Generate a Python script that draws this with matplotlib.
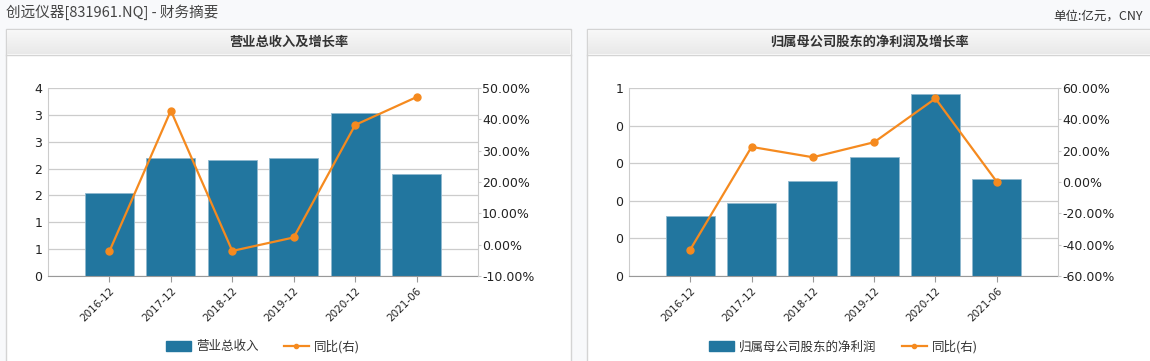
import numpy as np
import matplotlib
matplotlib.use('Agg')
import matplotlib.pyplot as plt
from matplotlib.patches import Rectangle
from matplotlib.lines import Line2D
from matplotlib.ticker import FuncFormatter

plt.rcParams['font.family'] = ['Noto Sans CJK SC', 'DejaVu Sans']

periods = ['2016-12', '2017-12', '2018-12', '2019-12', '2020-12', '2021-06']
revenue = [1.55, 2.20, 2.16, 2.20, 3.04, 1.90]
revenue_yoy = [-2.1, 42.8, -2.0, 2.3, 38.2, 47.1]
profit = [0.32, 0.39, 0.505, 0.633, 0.97, 0.516]
profit_yoy = [-43.1, 22.4, 15.8, 25.4, 53.3, 0.2]

W, H = 1150, 361
BAR = '#22769f'
LINE = '#f58a1f'
GRID = '#cccccc'
TXT = '#222222'
NUM_FONT = 'DejaVu Sans'

fig = plt.figure(figsize=(W / 100, H / 100), dpi=100)
fig.patch.set_facecolor('#f8f9fb')


def px_rect(x0, y0, x1, y1):
    # pixel box (top-left origin) -> figure fraction [l, b, w, h]
    return [x0 / W, 1 - y1 / H, (x1 - x0) / W, (y1 - y0) / H]


def panel(x0, x1, title):
    l, b, w, h = px_rect(x0, 29, x1, H + 2)
    fig.add_artist(Rectangle((l, b), w, h, transform=fig.transFigure,
                             facecolor='white', edgecolor='#d4d4d4', lw=1, zorder=-10))
    hax = fig.add_axes(px_rect(x0 + 1, 30, x1 - 1, 54))
    grad = np.linspace(0, 1, 50).reshape(-1, 1)
    hax.imshow(grad, aspect='auto', cmap=matplotlib.colors.LinearSegmentedColormap.from_list(
        'g', ['#f8f8f8', '#e9e9e9']), extent=[0, 1, 0, 1])
    hax.set_xticks([])
    hax.set_yticks([])
    for s in hax.spines.values():
        s.set_visible(False)
    l, b, w, h = px_rect(x0, 54, x1, 55)
    fig.add_artist(Line2D([l, l + w], [b, b], transform=fig.transFigure,
                          color='#d4d4d4', lw=1))
    hax.text(0.5, 0.5, title, ha='center', va='center', fontsize=9.5,
             fontweight='bold', color='#333333', transform=hax.transAxes)


def chart(x0, x1, bars, yoy, ymax, ystep, pmin, pmax, pstep, bar_label, left_fmt):
    ax = fig.add_axes(px_rect(x0, 88, x1, 276))
    x = np.arange(1, len(periods) + 1)
    ax.bar(x, bars, width=0.8, color=BAR, edgecolor='#8fb8cf', lw=0.6, zorder=2)
    ax.set_xlim(0, 7)
    ax.set_ylim(0, ymax)
    ax.set_yticks(np.arange(0, ymax + 1e-9, ystep))
    ax.yaxis.set_major_formatter(FuncFormatter(left_fmt))
    ax.set_xticks(x)
    ax.set_xticklabels(periods, rotation=45, ha='right', rotation_mode='anchor',
                       fontsize=7.5, color=TXT, family=NUM_FONT)
    ax.tick_params(axis='x', length=4, color='#999999', pad=3)
    ax.tick_params(axis='y', length=0, labelsize=9, colors=TXT, pad=4)
    for t in ax.get_yticklabels():
        t.set_family(NUM_FONT)
    ax.grid(axis='y', color=GRID, lw=0.9, zorder=0)
    ax.set_axisbelow(True)
    ax.patch.set_alpha(0)
    ax.spines['top'].set_visible(False)
    ax.spines['left'].set_color(GRID)
    ax.spines['right'].set_visible(False)
    ax.spines['bottom'].set_color('#999999')

    ax2 = ax.twinx()
    ax2.plot(x, yoy, color=LINE, lw=1.6, marker='o', ms=5, zorder=3)
    ax2.set_ylim(pmin, pmax)
    ax2.set_yticks(np.arange(pmin, pmax + 1e-9, pstep))
    ax2.yaxis.set_major_formatter(FuncFormatter(lambda v, p: '%.2f%%' % v))
    ax2.tick_params(axis='y', length=2, color=GRID, labelsize=9, colors=TXT, pad=1)
    for t in ax2.get_yticklabels():
        t.set_family(NUM_FONT)
    for s in ['top', 'left', 'bottom']:
        ax2.spines[s].set_visible(False)
    ax2.spines['right'].set_color(GRID)
    ax2.set_xlim(0, 7)

    handles = [Rectangle((0, 0), 1, 1, color=BAR),
               Line2D([], [], color=LINE, lw=1.6, marker='o', ms=3)]
    ax.legend(handles, [bar_label, '同比(右)'], loc='center', ncol=2,
              bbox_to_anchor=(0.5, -0.375), frameon=False, fontsize=9,
              handlelength=2.0, handleheight=0.9, columnspacing=2.0,
              handletextpad=0.4, labelcolor='#333333')


fig.text(6 / W, 1 - 12 / H, '创远仪器[831961.NQ] - 财务摘要', fontsize=10.5,
         color='#444444', va='center', ha='left')
fig.text(1143 / W, 1 - 16 / H, '单位:亿元，CNY', fontsize=9,
         color='#333333', va='center', ha='right')

panel(6, 571, '营业总收入及增长率')
panel(587, 1152, '归属母公司股东的净利润及增长率')

chart(48, 478, revenue, revenue_yoy, 3.5, 0.5, -10, 50, 10, '营业总收入',
      lambda v, p: '%d' % int(np.floor(v + 0.5)))
chart(629, 1058, profit, profit_yoy, 1.0, 0.2, -60, 60, 20, '归属母公司股东的净利润',
      lambda v, p: '%d' % int(np.floor(v + 0.5)) if v > 0.95 else '0')

fig.savefig('out.png', dpi=100, facecolor=fig.get_facecolor())
